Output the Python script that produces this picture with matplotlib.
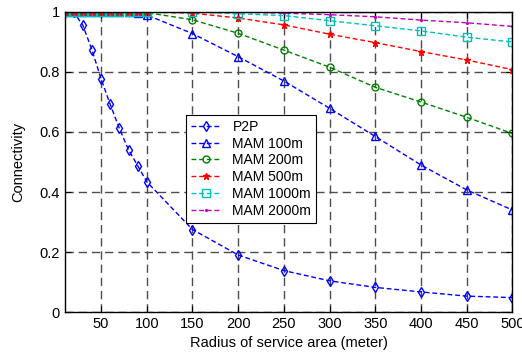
import matplotlib
matplotlib.use("Agg")
import matplotlib.pyplot as plt

plt.rcParams['font.family'] = ['Liberation Sans', 'DejaVu Sans']

# radius of service area (meter)
radius = [10, 20, 30, 40, 50, 60, 70, 80, 90, 100,
          150, 200, 250, 300, 350, 400, 450, 500]

p2p = [1.0, 1.0, 0.956, 0.874, 0.777, 0.692, 0.612, 0.541, 0.488, 0.434,
       0.275, 0.19, 0.138, 0.104, 0.082, 0.067, 0.053, 0.048]
mam_100 = [1.0, 1.0, 1.0, 1.0, 1.0, 1.0, 1.0, 1.0, 0.998, 0.99,
           0.928, 0.851, 0.77, 0.679, 0.585, 0.49, 0.407, 0.34]
mam_200 = [1.0, 1.0, 1.0, 1.0, 1.0, 1.0, 1.0, 1.0, 1.0, 0.998,
           0.974, 0.929, 0.873, 0.816, 0.749, 0.70, 0.649, 0.595]
mam_500 = [1.0, 1.0, 1.0, 1.0, 1.0, 1.0, 1.0, 1.0, 1.0, 1.0,
           0.996, 0.98, 0.957, 0.926, 0.898, 0.868, 0.84, 0.808]
mam_1000 = [1.0, 1.0, 1.0, 1.0, 1.0, 1.0, 1.0, 1.0, 1.0, 1.0,
            1.0, 0.994, 0.988, 0.971, 0.954, 0.937, 0.916, 0.9]
mam_2000 = [1.0, 1.0, 1.0, 1.0, 1.0, 1.0, 1.0, 1.0, 1.0, 1.0,
            1.0, 1.0, 0.996, 0.991, 0.984, 0.973, 0.964, 0.952]

xticks = [50, 100, 150, 200, 250, 300, 350, 400, 450, 500]
yticks = [0, 0.2, 0.4, 0.6, 0.8, 1.0]
ytick_labels = ['0', '0.2', '0.4', '0.6', '0.8', '1']

series = [
    ('P2P', p2p, 'b', 'd', 5),
    ('MAM 100m', mam_100, 'b', '^', 6),
    ('MAM 200m', mam_200, 'g', 'o', 5),
    ('MAM 500m', mam_500, 'r', '*', 5),
    ('MAM 1000m', mam_1000, 'c', 's', 6),
    ('MAM 2000m', mam_2000, 'm', '.', 2.5),
]

fig = plt.figure(figsize=(5.22, 3.6), dpi=100)
ax = fig.add_axes([0.1236, 0.1333, 0.858, 0.8334])

for label, vals, col, mk, ms in series:
    fill = 'full' if mk in ('*', '.') else 'none'
    ax.plot(radius, vals, linestyle='--', color=col, marker=mk, markersize=ms,
            fillstyle=fill, markeredgewidth=1.0, linewidth=1.0, label=label,
            dashes=(3.5, 2))

ax.set_xlim(10, 500)
ax.set_ylim(0, 1)
ax.set_xticks(xticks)
ax.set_yticks(yticks)
ax.set_yticklabels(ytick_labels)
ax.tick_params(direction='in', top=True, right=True, length=4, labelsize=10.5)
ax.grid(True, color='0.3', linestyle=(0, (6, 3.5)), linewidth=1.0)
ax.set_axisbelow(True)
for sp in ax.spines.values():
    sp.set_linewidth(1.0)

ax.set_xlabel('Radius of service area (meter)', fontsize=10.5, labelpad=4)
ax.set_ylabel('Connectivity', fontsize=10.5, labelpad=10)

leg = ax.legend(loc='upper left', bbox_to_anchor=(0.271, 0.657), fontsize=10,
                frameon=True, fancybox=False, framealpha=1, edgecolor='k',
                handlelength=2.2, handletextpad=0.8, labelspacing=0.2,
                borderpad=0.35, borderaxespad=0)
leg.get_frame().set_linewidth(0.8)

fig.savefig('out.png', dpi=100)
